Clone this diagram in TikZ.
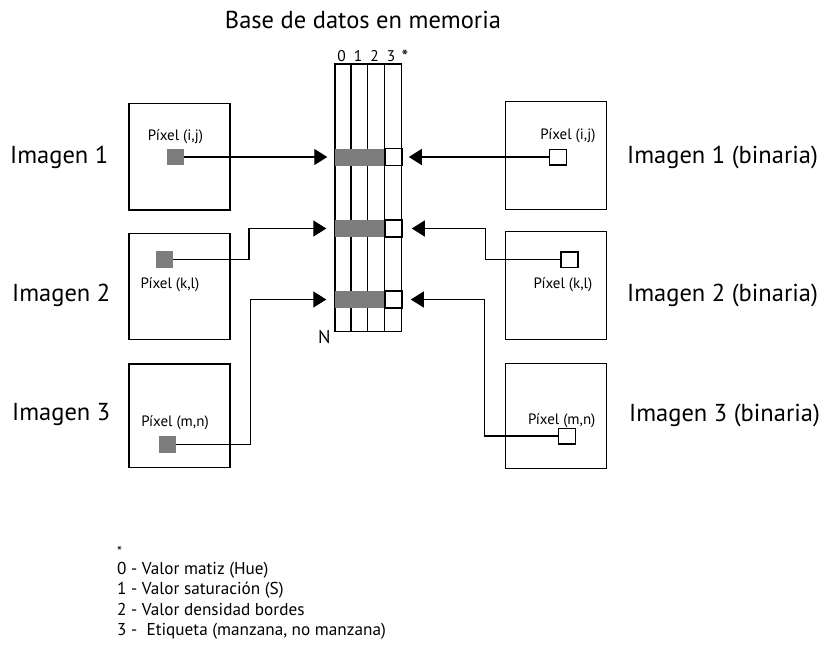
\documentclass[tikz,border=0pt]{standalone}
\usepackage{fontspec}
\setmainfont{PT Sans}
\usetikzlibrary{arrows.meta,positioning}
\definecolor{pixgray}{RGB}{125,125,125}
\begin{document}
\begin{tikzpicture}[x=1pt,y=-1pt,
  imgbox/.style={draw=black,line width=1.4pt},
  bigtxt/.style={font=\fontsize{24.5}{28}\selectfont,inner sep=0pt},
  pxtxt/.style={font=\fontsize{15}{17}\selectfont,inner sep=0pt,anchor=base},
  legtxt/.style={font=\fontsize{17.2}{18}\selectfont,inner sep=0pt,anchor=base west},
  hdtxt/.style={font=\fontsize{15.5}{18}\selectfont,inner sep=0pt,anchor=base},
  graysq/.style={fill=pixgray,draw=none,minimum width=17pt,minimum height=16.5pt,inner sep=0pt},
  whitesq/.style={fill=white,draw=black,line width=1.5pt,minimum width=17pt,minimum height=15.5pt,inner sep=0pt},
  graybar/.style={fill=pixgray,draw=none,minimum width=50pt,minimum height=17pt,inner sep=0pt},
  whitecell/.style={fill=white,draw=black,line width=1.8pt,minimum width=16.7pt,minimum height=17pt,inner sep=0pt},
  arr/.style={line width=1.3pt,-{Triangle[length=13pt,width=16pt]}},
]
\useasboundingbox (0,0) rectangle (830,651);

% title
\node[bigtxt] (title) at (363,20) {Base de datos en memoria};

% database
\node[draw=black,line width=1.4pt,minimum width=66.7pt,minimum height=267.4pt,inner sep=0pt,anchor=north west] (db) at (334.3,63.3) {};
\foreach \cx in {351,367.7,384.3} \draw[line width=1.4pt] (\cx,63.3) -- (\cx,330.7);

\node[graybar,anchor=west] (bar1) at (334.3,157) {};
\node[graybar,anchor=west] (bar2) at (334.3,228.5) {};
\node[graybar,anchor=west] (bar3) at (334.3,299.5) {};
\node[whitecell,anchor=west] (cell1) at (384.3,157) {};
\node[whitecell,anchor=west] (cell2) at (384.3,228.5) {};
\node[whitecell,anchor=west] (cell3) at (384.3,299.5) {};

\node[hdtxt] (h0) at (341.5,61.5) {0};
\node[hdtxt] (h1) at (358,61.5) {1};
\node[hdtxt] (h2) at (374.5,61.5) {2};
\node[hdtxt] (h3) at (391,61.5) {3};
\node[hdtxt,font=\fontsize{19}{20}\selectfont] (hs) at (405,63) {*};
\node[font=\fontsize{18.5}{20}\selectfont,inner sep=0pt] (nlab) at (324.3,336.7) {N};

% left image boxes
\node[imgbox,minimum width=101pt,minimum height=106.6pt,inner sep=0pt,anchor=north west] (lb1) at (128.3,102.7) {};
\node[imgbox,minimum width=101pt,minimum height=106.3pt,inner sep=0pt,anchor=north west] (lb2) at (128.3,232.7) {};
\node[imgbox,minimum width=101pt,minimum height=103.7pt,inner sep=0pt,anchor=north west] (lb3) at (128.3,363.3) {};

\node[graysq] (lp1) at (175.6,157) {};
\node[graysq] (lp2) at (164.4,259.3) {};
\node[graysq] (lp3) at (167,444.3) {};
\node[pxtxt] (lt1) at (175.5,140) {Píxel (i,j)};
\node[pxtxt] (lt2) at (170,288) {Píxel (k,l)};
\node[pxtxt] (lt3) at (175,426) {Píxel (m,n)};

% right image boxes
\node[imgbox,minimum width=100.7pt,minimum height=108.3pt,inner sep=0pt,anchor=north west] (rb1) at (505,100.7) {};
\node[imgbox,minimum width=100.7pt,minimum height=108pt,inner sep=0pt,anchor=north west] (rb2) at (505,231) {};
\node[imgbox,minimum width=100.7pt,minimum height=105pt,inner sep=0pt,anchor=north west] (rb3) at (505,363) {};

\node[pxtxt] (rt1) at (568,139) {Píxel (i,j)};
\node[pxtxt] (rt2) at (563,288) {Píxel (k,l)};
\node[pxtxt] (rt3) at (561.7,424) {Píxel (m,n)};
\node[whitesq] (rp1) at (558,157) {};
\node[whitesq] (rp2) at (569.3,259.7) {};
\node[whitesq] (rp3) at (566.8,436) {};

% connectors
\draw[arr,shorten >=7pt] (lp1.east) -- (bar1.west);
\draw[arr,shorten >=8pt] (lp2.east) -- ++(76,0) |- (bar2.west);
\draw[arr,shorten >=8pt] (lp3.east) -- ++(75,0) |- (bar3.west);
\draw[arr,shorten >=6pt] (rp1.west) -- (cell1.east);
\draw[arr,shorten >=9pt] (rp2.west) -- ++(-74.3,0) |- (cell2.east);
\draw[arr,shorten >=8pt] (rp3.west) -- ++(-73,0) |- (cell3.east);

% big labels
\node[bigtxt,anchor=west] (il1) at (10,157) {Imagen 1};
\node[bigtxt,anchor=west] (il2) at (12,295) {Imagen 2};
\node[bigtxt,anchor=west] (il3) at (12,415) {Imagen 3};
\node[bigtxt,anchor=west] (ir1) at (627,157) {Imagen 1 (binaria)};
\node[bigtxt,anchor=west] (ir2) at (627,295) {Imagen 2 (binaria)};
\node[bigtxt,anchor=west] (ir3) at (629,415) {Imagen 3 (binaria)};

% legend
\node[legtxt,font=\fontsize{14}{16}\selectfont] (lg0) at (117,556) {*};
\node[legtxt] (lg1) at (117,574) {0 - Valor matiz (Hue)};
\node[legtxt] (lg2) at (117,594.5) {1 - Valor saturación (S)};
\node[legtxt] (lg3) at (117,615) {2 - Valor densidad bordes};
\node[legtxt] (lg4) at (117,635.5) {3 -\ \ Etiqueta (manzana, no manzana)};
\end{tikzpicture}
\end{document}
